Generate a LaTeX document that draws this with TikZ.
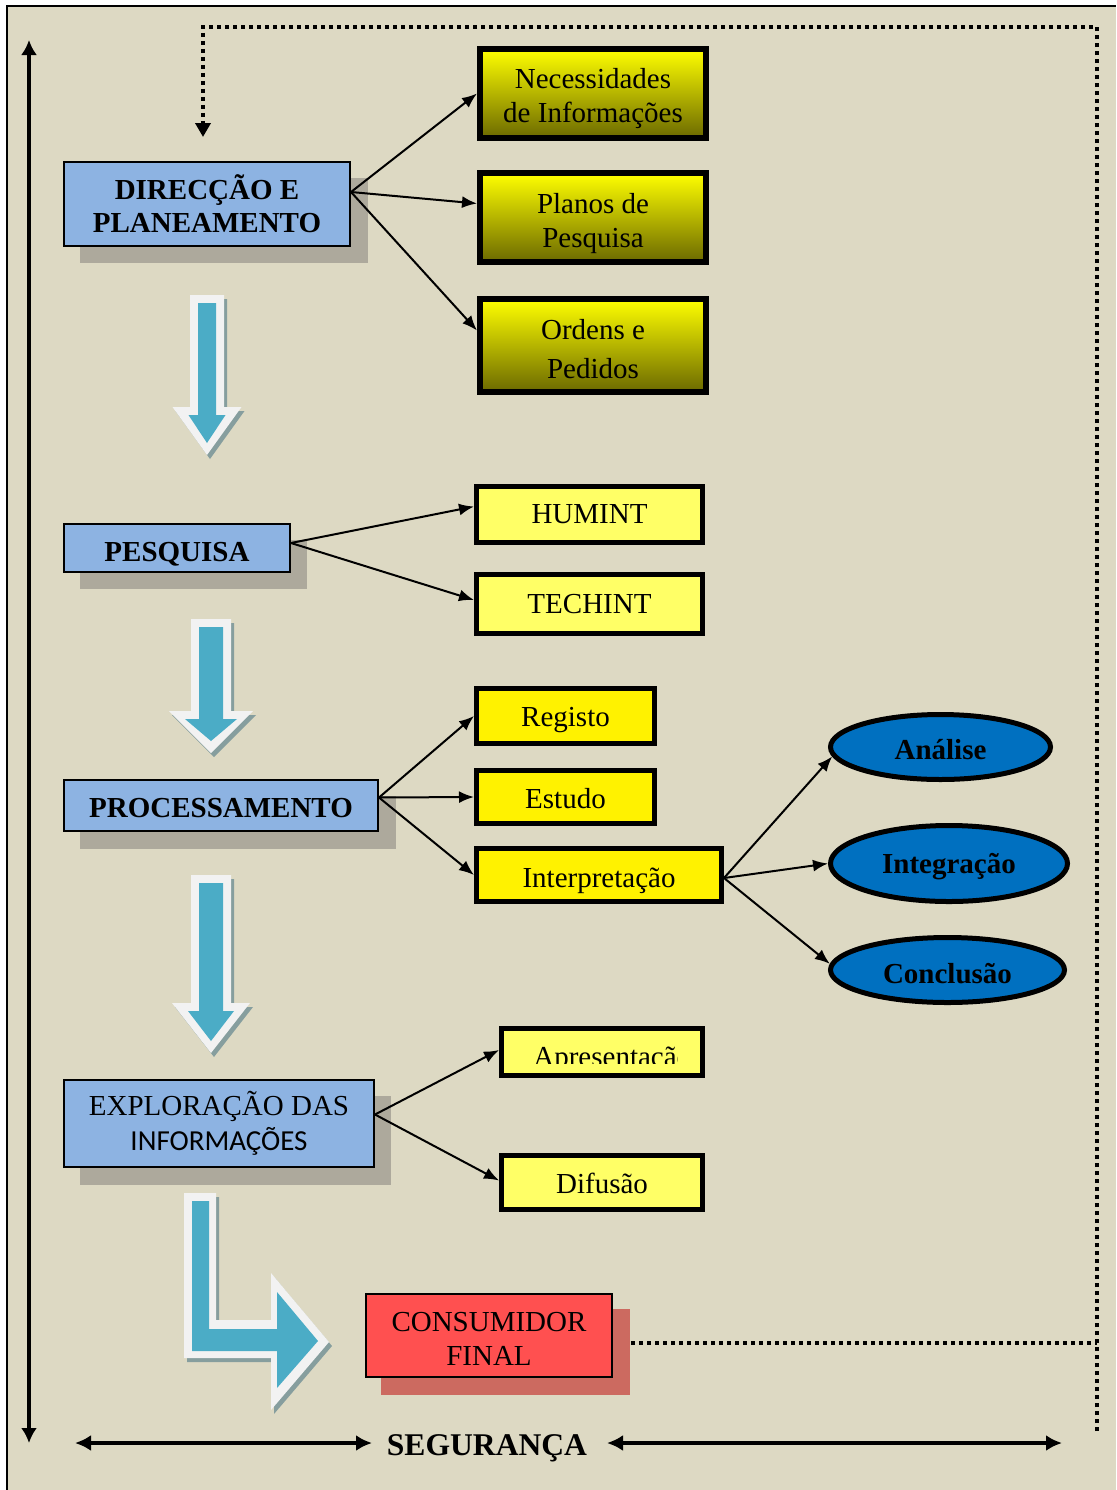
\documentclass[tikz,border=0pt]{standalone}
\usepackage{fontspec}
\setmainfont{Liberation Serif}
\newfontfamily\calib{Carlito}
\usetikzlibrary{arrows.meta,shapes.geometric,calc}
\definecolor{bgc}{HTML}{DDD9C3}
\definecolor{blueboxc}{HTML}{8DB3E2}
\definecolor{shadowc}{HTML}{ADA99C}
\definecolor{lyellow}{HTML}{FFFF66}
\definecolor{olivec}{RGB}{107,105,0}
\definecolor{tealc}{HTML}{4BACC6}
\definecolor{whitec}{HTML}{F2F2F2}
\definecolor{ashadow}{HTML}{869E9E}
\definecolor{redc}{HTML}{FF5050}
\definecolor{redsh}{HTML}{CC6A60}
\definecolor{ellc}{HTML}{0070C0}
\newcommand\bluedown[6]{%
 \fill[ashadow] (#1-#5+3,#2+4) -- (#1+#5+3,#2+4) -- (#1+#5+3,#3+4) -- (#1+#6+3,#3+4) -- (#1+3,#4+4) -- (#1-#6+3,#3+4) -- (#1-#5+3,#3+4) -- cycle;
 \fill[whitec] (#1-#5,#2) -- (#1+#5,#2) -- (#1+#5,#3) -- (#1+#6,#3) -- (#1,#4) -- (#1-#6,#3) -- (#1-#5,#3) -- cycle;
 \fill[tealc] (#1-#5+8,#2+8) -- (#1+#5-8,#2+8) -- (#1+#5-8,#3+8) -- (#1+#6-16,#3+8) -- (#1,#4-12) -- (#1-#6+16,#3+8) -- (#1-#5+8,#3+8) -- cycle;
}
\tikzset{
 txt/.style={font=\fontsize{14.5}{17}\selectfont, align=center, text=black, inner sep=0pt},
 btxt/.style={font=\fontsize{14.5}{16.5}\selectfont\bfseries, align=center, text=black, inner sep=0pt},
 ptxt/.style={font=\fontsize{14.5}{17.5}\selectfont, align=center, text=black, inner sep=0pt},
 bluebox/.style={draw, line width=1pt, fill=blueboxc, inner sep=0pt},
 gradbox/.style={draw, line width=3pt, top color=yellow, bottom color=olivec, inner sep=0pt},
 lybox/.style={draw, line width=2.5pt, fill=lyellow, inner sep=0pt},
 ybox/.style={draw, line width=2.5pt, fill=yellow, inner sep=0pt},
 redbox/.style={draw, line width=1pt, fill=redc, inner sep=0pt},
 ell/.style={ellipse, draw, line width=2.5pt, fill=ellc, inner sep=0pt},
 conn/.style={line width=1pt, -{Latex[length=7.5pt,width=6pt]}},
 dotline/.style={line width=1.8pt, dash pattern=on 1.8pt off 2.2pt},
 bigarrow/.style={line width=2.3pt},
 sz/.style 2 args={minimum width=#1pt, minimum height=#2pt},
}
\begin{document}
\begin{tikzpicture}[x=0.5pt,y=-0.5pt]
\useasboundingbox (0,0) rectangle (1116,1490);
\fill[white] (0,0) rectangle (1116,1490);
\fill[bgc] (7,6) rectangle (1116,1490);
\draw[line width=1pt] (7,1490) -- (7,6) -- (1116,6);

% left vertical double arrow
\coordinate (vtop) at (29,40);
\coordinate (vbot) at (29,1443);
\draw[bigarrow, {Latex[length=7.5pt,width=8pt]}-{Latex[length=7.5pt,width=8pt]}] (vbot) -- (vtop);

% feedback dotted line
\coordinate (fb1) at (1097,1431);
\coordinate (fb2) at (1097,27);
\coordinate (fb3) at (203,27);
\coordinate (fb4) at (203,137);
\draw[dotline, -{Triangle[length=7pt,width=7.5pt]}] (fb1) -- (fb2) -- (fb3) -- (fb4);

% shadows
\fill[shadowc] (80,178) rectangle (368,263);
\fill[shadowc] (80,540) rectangle (307,589);
\fill[shadowc] (80,796) rectangle (396,849);
\fill[shadowc] (80,1096) rectangle (391,1185);
\fill[redsh] (381,1309) rectangle (630,1395);

% big down arrows
\bluedown{207}{295}{407}{455}{17}{34.5}
\bluedown{211}{619}{711}{753}{20}{42}
\bluedown{211}{875}{1003}{1053}{20}{39}

% bent arrow
\fill[ashadow] (187,1197) -- (219,1197) -- (219,1324) -- (274,1324) -- (274,1277) -- (332,1346) -- (274,1414) -- (274,1362) -- (187,1362) -- cycle;
\fill[whitec] (184,1193) -- (216,1193) -- (216,1320) -- (271,1320) -- (271,1273) -- (329,1342) -- (271,1410) -- (271,1358) -- (184,1358) -- cycle;
\fill[tealc] (192,1201) -- (209,1201) -- (209,1329) -- (277,1329) -- (277,1292) -- (318,1341) -- (277,1388) -- (277,1351) -- (192,1351) -- cycle;

% blue boxes
\node[bluebox, sz={143}{42}, label={[btxt]center:DIRECÇÃO E\\PLANEAMENTO}] (dir) at (207,204) {};
\node[bluebox, sz={113}{24}, label={[btxt, yshift=-3pt]center:PESQUISA}] (pes) at (177,548) {};
\node[bluebox, sz={157}{25.5}, label={[btxt, yshift=-1.5pt]center:PROCESSAMENTO}] (proc) at (221,805.5) {};
\node[bluebox, sz={155}{43.5}, label={[ptxt]center:EXPLORAÇÃO DAS\\{\calib INFORMAÇÕES}}] (expl) at (219,1123.5) {};

% gradient boxes
\node[gradbox, sz={113}{44.5}, label={[txt, yshift=-2.5pt]center:Necessidades\\de Informações}] (nec) at (593,93.5) {};
\node[gradbox, sz={113}{44.5}, label={[txt, yshift=-3pt]center:Planos de\\Pesquisa}] (plan) at (593,217.5) {};
\node[gradbox, sz={113}{46.5}, label={[txt, yshift=-1.75pt]center:Ordens e\\[2.5pt]Pedidos}] (ord) at (593,345.5) {};

% light yellow boxes
\node[lybox, sz={113}{28}, label={[txt]center:HUMINT}] (hum) at (589.5,514.5) {};
\node[lybox, sz={113}{29.5}, label={[txt]center:TECHINT}] (tec) at (589.5,604) {};
\node[lybox, sz={100.5}{23.5}] (apr) at (602,1052) {};
\begin{scope}
\clip (505,1030) rectangle (677,1063);
\node[txt, anchor=base west] (aprtxt) at (533,1066) {Apresentação};
\end{scope}
\node[lybox, sz={100.5}{27}, label={[txt, yshift=-0.5pt]center:Difusão}] (dif) at (602,1182.5) {};

% yellow boxes
\node[ybox, sz={89}{27.5}, label={[txt, yshift=-2pt]center:Registo}] (reg) at (565.5,716) {};
\node[ybox, sz={89}{26.5}, label={[txt, yshift=-1pt]center:Estudo}] (est) at (565.5,797) {};
\node[ybox, sz={122.5}{26.5}, label={[txt, yshift=-3pt]center:Interpretação}] (int) at (599,875) {};

% ellipses
\node[ell, sz={110}{32.5}, label={[btxt, yshift=-1.5pt]center:Análise}] (ana) at (940.5,747) {};
\node[ell, sz={118.5}{38}, label={[btxt, yshift=-1.5pt]center:Integração}] (integ) at (949,863.5) {};
\node[ell, sz={117}{32.5}, label={[btxt, yshift=-2pt]center:Conclusão}] (conc) at (947.5,970) {};

% consumer
\node[redbox, sz={123}{41.5}, label={[txt, yshift=-1.5pt]center:CONSUMIDOR\\FINAL}] (cons) at (489,1335.5) {};
\coordinate (cs) at (631,1343);
\coordinate (cdot) at (1097,1343);
\draw[dotline] (cs) -- (cdot);

% connectors
\draw[conn] ($(dir.east)+(0,-12)$) -- (nec.west);
\draw[conn] ($(dir.east)+(0,-12)$) -- ($(plan.west)+(0,-14)$);
\draw[conn] ($(dir.east)+(0,-12)$) -- ($(ord.west)+(0,-15)$);
\draw[conn] ($(pes.east)+(0,-5)$) -- ($(hum.west)+(0,-8)$);
\draw[conn] ($(pes.east)+(0,-5)$) -- ($(tec.west)+(0,-4)$);
\draw[conn] ($(proc.east)+(0,-8)$) -- (reg.west);
\draw[conn] ($(proc.east)+(0,-8)$) -- (est.west);
\draw[conn] ($(proc.east)+(0,-8)$) -- (int.west);
\draw[conn] ($(int.east)+(0,3)$) -- (ana.185);
\draw[conn] ($(int.east)+(0,3)$) -- (integ.west);
\draw[conn] ($(int.east)+(0,3)$) -- (conc.177);
\draw[conn] ($(expl.east)+(0,-9)$) -- ($(apr.west)+(0,-2)$);
\draw[conn] ($(expl.east)+(0,-9)$) -- ($(dif.west)+(0,-2)$);

% security
\node[font=\fontsize{15.8}{18}\selectfont\bfseries, anchor=base, inner sep=0pt] (seg) at (487,1455) {SEGURANÇA};
\coordinate (sl1) at (75,1443);
\coordinate (sl2) at (372,1443);
\coordinate (sr1) at (607,1443);
\coordinate (sr2) at (1062,1443);
\draw[bigarrow, {Latex[length=8pt,width=8pt]}-{Latex[length=8pt,width=8pt]}] (sl1) -- (sl2);
\draw[bigarrow, {Latex[length=8pt,width=8pt]}-{Latex[length=8pt,width=8pt]}] (sr1) -- (sr2);
\end{tikzpicture}
\end{document}
